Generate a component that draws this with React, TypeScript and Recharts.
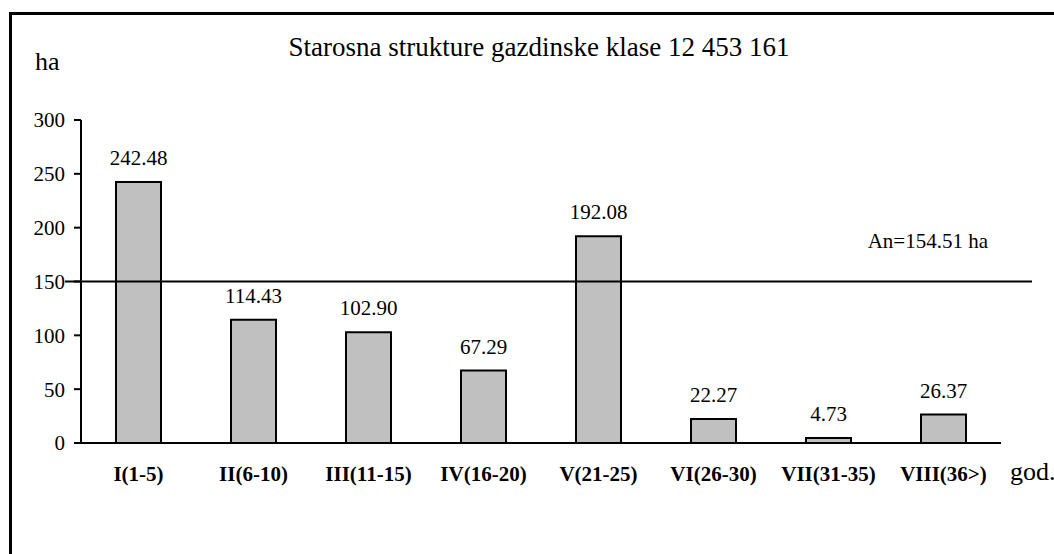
import { Bar, BarChart, LabelList, ReferenceLine, XAxis, YAxis } from "recharts";

const categories = [
  "I(1-5)",
  "II(6-10)",
  "III(11-15)",
  "IV(16-20)",
  "V(21-25)",
  "VI(26-30)",
  "VII(31-35)",
  "VIII(36>)",
];
const areas = [242.48, 114.43, 102.9, 67.29, 192.08, 22.27, 4.73, 26.37];
const yTicks = [0, 50, 100, 150, 200, 250, 300];
const averageArea = 150;
const averageLabel = "An=154.51 ha";
const title = "Starosna strukture gazdinske klase 12 453 161";

const data = categories.map((name, i) => ({ name, area: areas[i] }));

const font = "'Liberation Serif', 'Times New Roman', serif";

export default function App() {
  return (
    <div
      style={{
        position: "fixed",
        left: 0,
        top: 0,
        width: 1054,
        height: 554,
        overflow: "hidden",
        background: "#fff",
        fontFamily: font,
      }}
    >
      <style>{`.recharts-wrapper text, .recharts-wrapper tspan { font-family: ${font} !important; }`}</style>
      <div
        style={{
          position: "absolute",
          left: 9,
          top: 12,
          width: 1100,
          height: 600,
          border: "3px solid #000",
        }}
      />
      <BarChart
        width={1054}
        height={554}
        data={data}
        margin={{ top: 120, right: 53, bottom: 71, left: 0 }}
        barSize={45}
        style={{ position: "absolute", left: 0, top: 0 }}
      >
        <text x={539} y={56} textAnchor="middle" fontSize={27} fontFamily={font} fill="#000">
          {title}
        </text>
        <XAxis
          dataKey="name"
          height={40}
          interval={0}
          tickLine={false}
          tickMargin={17}
          axisLine={{ stroke: "#000", strokeWidth: 2 }}
          tick={{ fill: "#000", fontSize: 21, fontWeight: "bold", fontFamily: font }}
          label={{
            content: ({ viewBox }: any) => (
              <text
                x={viewBox.x + viewBox.width + 9}
                y={viewBox.y + 37}
                fontSize={26}
                fontFamily={font}
                fill="#000"
              >
                god.
              </text>
            ),
          }}
        />
        <YAxis
          width={81}
          domain={[0, 300]}
          ticks={yTicks}
          tickSize={7}
          tickMargin={9}
          axisLine={{ stroke: "#000", strokeWidth: 2 }}
          tickLine={{ stroke: "#000", strokeWidth: 2 }}
          tick={{ fill: "#000", fontSize: 21, fontFamily: font }}
          label={{
            content: ({ viewBox }: any) => (
              <text x={viewBox.x + 35} y={viewBox.y - 50} fontSize={26} fontFamily={font} fill="#000">
                ha
              </text>
            ),
          }}
        />
        <Bar dataKey="area" fill="#c0c0c0" stroke="#000" strokeWidth={2} isAnimationActive={false}>
          <LabelList
            dataKey="area"
            position="top"
            offset={17}
            formatter={(v: any) => Number(v).toFixed(2)}
            style={{ fill: "#000", fontSize: 21, fontFamily: font }}
          />
        </Bar>
        <ReferenceLine
          y={averageArea}
          shape={(p: any) => (
            <line x1={p.x1 - 16} y1={p.y1} x2={p.x2 + 31} y2={p.y2} stroke="#000" strokeWidth={2} />
          )}
          label={{
            content: ({ viewBox }: any) => (
              <text
                x={viewBox.x + viewBox.width - 13}
                y={viewBox.y - 34}
                textAnchor="end"
                fontSize={21}
                fontFamily={font}
                fill="#000"
              >
                {averageLabel}
              </text>
            ),
          }}
        />
      </BarChart>
    </div>
  );
}
